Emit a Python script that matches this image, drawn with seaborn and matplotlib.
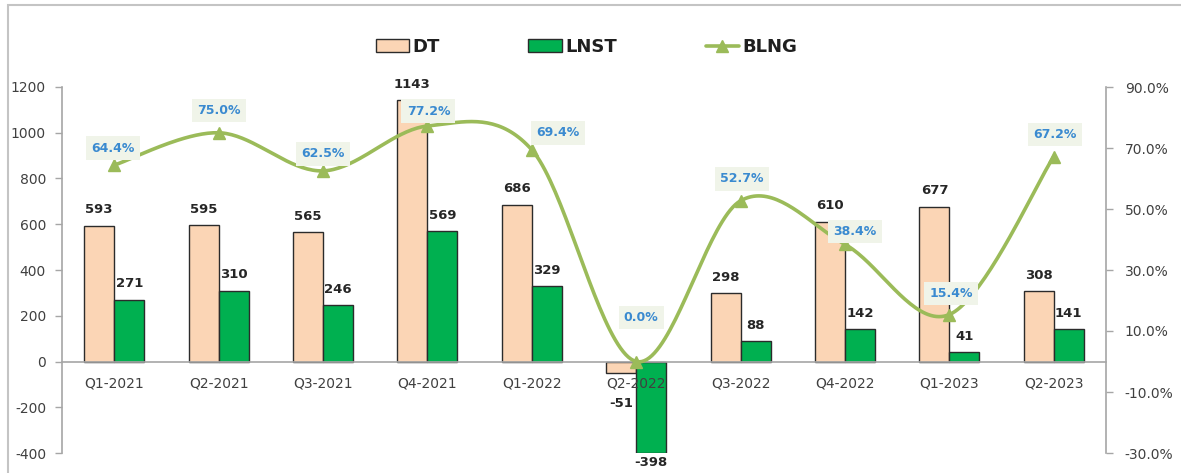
import numpy as np
import pandas as pd
import matplotlib
matplotlib.use("Agg")
import matplotlib.pyplot as plt
from matplotlib.patches import Patch, Rectangle
from matplotlib.lines import Line2D
import seaborn as sns

# ---- data ----
quarters = ["Q1-2021", "Q2-2021", "Q3-2021", "Q4-2021", "Q1-2022",
            "Q2-2022", "Q3-2022", "Q4-2022", "Q1-2023", "Q2-2023"]
dt = [593, 595, 565, 1143, 686, -51, 298, 610, 677, 308]
lnst = [271, 310, 246, 569, 329, -398, 88, 142, 41, 141]
blng = [64.4, 75.0, 62.5, 77.2, 69.4, 0.0, 52.7, 38.4, 15.4, 67.2]

# ---- style ----
sns.set_style("white")
plt.rcParams["font.family"] = ["DejaVu Sans"]
plt.rcParams["axes.unicode_minus"] = False

C_DT = "#FBD5B5"
C_LNST = "#00B050"
C_LINE = "#9BBB59"
C_EDGE = "#2B2B2B"
C_AXIS = "#A6A6A6"
C_TICK = "#404040"
C_PCT = "#3A8AD0"
C_PCT_BG = "#F0F4E9"

W, H = 1181, 473
fig = plt.figure(figsize=(W / 100, H / 100), dpi=100)
fig.patch.set_facecolor("white")

# outer chart frame
fig.patches.append(Rectangle((8 / W, -0.05), 1.2, 1 - 5 / H + 0.05,
                             transform=fig.transFigure, fill=False,
                             edgecolor="#C4C4C4", linewidth=1.5, zorder=0))

ax = fig.add_axes([62 / W, 1 - 453 / H, (1106 - 62) / W, 366 / H])

df = pd.DataFrame({
    "quarter": quarters * 2,
    "series": ["DT"] * len(quarters) + ["LNST"] * len(quarters),
    "value": dt + lnst,
})

sns.barplot(data=df, x="quarter", y="value", hue="series",
            order=quarters, hue_order=["DT", "LNST"],
            palette={"DT": C_DT, "LNST": C_LNST}, saturation=1,
            width=0.575, gap=0, edgecolor=C_EDGE, linewidth=1.0,
            errorbar=None, legend=False, ax=ax)

ax.set_xlim(-0.5, len(quarters) - 0.5)
ax.set_ylim(-400, 1200)
ax.set_xlabel("")
ax.set_ylabel("")
ax.set_axisbelow(False)

for s in ["top", "right"]:
    ax.spines[s].set_visible(False)
ax.spines["left"].set_color(C_AXIS)
ax.spines["bottom"].set_color(C_AXIS)
ax.spines["bottom"].set_position(("data", 0))
ax.spines["left"].set_linewidth(1.2)
ax.spines["bottom"].set_linewidth(1.2)

ax.set_yticks(np.arange(-400, 1201, 200))
ax.tick_params(axis="y", direction="out", length=5, width=1, color=C_AXIS,
               labelcolor=C_TICK, labelsize=10, pad=6.5)
ax.set_xticks(range(len(quarters)))
ax.set_xticklabels(quarters)
ax.set_xticks(np.arange(0.5, len(quarters) - 1, 1.0), minor=True)
ax.tick_params(axis="x", which="major", length=0, labelcolor=C_TICK,
               labelsize=10, pad=11)
ax.tick_params(axis="x", which="minor", direction="out", length=5,
               width=1, color=C_AXIS)

# value labels on bars
half = 0.575 / 4
dt_dy = {5: -30}
lnst_dy = {5: -10}
for i in range(len(quarters)):
    for val, dx, special in ((dt[i], -half, dt_dy), (lnst[i], half, lnst_dy)):
        dy = special.get(i, 16 if val >= 0 else -16)
        ax.annotate(f"{val}", xy=(i + dx, val), xytext=(0, dy),
                    textcoords="offset pixels", ha="center", va="center",
                    fontsize=9.5, fontweight="bold", color="#262626",
                    zorder=4)

# ---- ratio line on secondary axis ----
ax2 = ax.twinx()
ax2.set_ylim(-30, 90)
for s in ["top", "left", "bottom"]:
    ax2.spines[s].set_visible(False)
ax2.spines["right"].set_color(C_AXIS)
ax2.spines["right"].set_linewidth(1.2)
ax2.set_yticks(np.arange(-30, 91, 20))
ax2.set_yticklabels([f"{v:.1f}%" for v in np.arange(-30, 91, 20)])
ax2.tick_params(axis="y", direction="out", length=5, width=1, color=C_AXIS,
                labelcolor=C_TICK, labelsize=10, pad=8.5)


def smooth_curve(xs, ys, steps=40):
    """Catmull-Rom curve through the points, drawn as cubic Bezier pieces."""
    p = np.column_stack([xs, ys]).astype(float)
    ext = np.vstack([p[0], p, p[-1]])
    out = []
    for k in range(len(p) - 1):
        p0, p1, p2, p3 = ext[k], ext[k + 1], ext[k + 2], ext[k + 3]
        c1 = p1 + (p2 - p0) / 6.0
        c2 = p2 - (p3 - p1) / 6.0
        t = np.linspace(0, 1, steps, endpoint=(k == len(p) - 2))[:, None]
        seg = ((1 - t) ** 3) * p1 + 3 * ((1 - t) ** 2) * t * c1 \
            + 3 * (1 - t) * t ** 2 * c2 + t ** 3 * p2
        out.append(seg)
    out = np.vstack(out)
    return out[:, 0], out[:, 1]


xpos = np.arange(len(quarters))
cx, cy = smooth_curve(xpos, blng)
sns.lineplot(x=cx, y=cy, sort=False, color=C_LINE, linewidth=2.6,
             ax=ax2, legend=False, zorder=3)
ax2.plot(xpos, blng, linestyle="none", marker="^", markersize=9,
         color=C_LINE, zorder=4)

pct_off = [(-1, 17), (0, 22), (0, 17), (1, 15), (26, 17),
           (5, 44), (1, 22), (10, 13), (2, 21), (1, 22)]
for i, v in enumerate(blng):
    ox, oy = pct_off[i]
    ax2.annotate(f"{v:.1f}%", xy=(i, v), xytext=(ox, oy),
                 textcoords="offset pixels", ha="center", va="center",
                 fontsize=9, fontweight="bold", color=C_PCT, zorder=6,
                 bbox=dict(boxstyle="square,pad=0.42", facecolor=C_PCT_BG,
                           edgecolor="none"))

# ---- legend ----
handles = [
    Patch(facecolor=C_DT, edgecolor=C_EDGE, linewidth=1.0),
    Patch(facecolor=C_LNST, edgecolor=C_EDGE, linewidth=1.0),
    Line2D([], [], color=C_LINE, linewidth=2.6, marker="^", markersize=8),
]
fig.legend(handles, ["DT", "LNST", "BLNG"], loc="center",
           bbox_to_anchor=(586.5 / W, 1 - 47 / H), ncol=3, frameon=False,
           prop={"weight": "bold", "size": 13}, handlelength=1.85,
           handleheight=0.7, handletextpad=0.2, columnspacing=4.9,
           labelcolor="#1F1F1F")

fig.savefig("out.png", dpi=100, facecolor="white")
